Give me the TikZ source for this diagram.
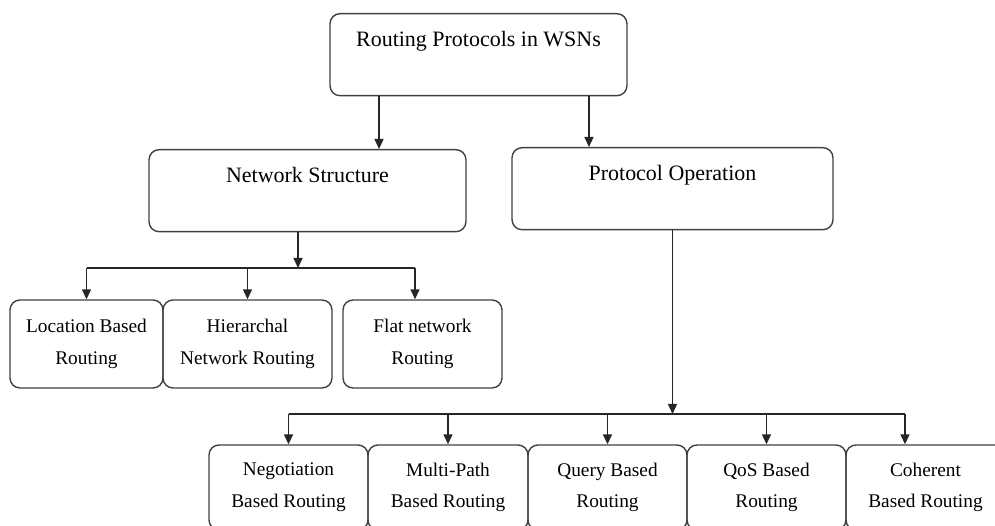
\documentclass[tikz,border=0pt]{standalone}
\usepackage{fontspec}
\setmainfont{Liberation Serif}
\usetikzlibrary{calc,arrows.meta,positioning}

\begin{document}
\begin{tikzpicture}[
  x=0.02cm, y=-0.02cm,
  bigbox/.style={rectangle, draw=black!75, line width=0.8pt, rounded corners=0.2cm, anchor=north,
    text height=0.66cm, text depth=0.98cm, inner ysep=0pt, font=\fontsize{12.5}{15}\selectfont},
  leafbox/.style={rectangle, draw=black!75, line width=0.8pt, rounded corners=0.2cm, align=center,
    minimum width=3.18cm, font=\fontsize{11}{18}\selectfont},
  line/.style={draw=black!85, line width=0.8pt},
  arr/.style={line, -{Triangle[length=2mm,width=1.8mm]}},
]
  \useasboundingbox (0,0) rectangle (995,526);
  \clip (0,0) rectangle (995,526);

  % top levels
  \node[bigbox, minimum width=5.94cm] (root) at (478.5,13) {Routing Protocols in WSNs};
  \node[bigbox, minimum width=6.34cm] (netstruct) at (307.5,149) {Network Structure};
  \node[bigbox, minimum width=6.42cm] (protop) at (672.5,147) {Protocol Operation};

  % network structure leaves
  \node[leafbox, minimum width=3.06cm, minimum height=1.76cm] (location) at (86.5,344) {Location Based\\Routing};
  \node[leafbox, minimum width=3.38cm, minimum height=1.76cm] (hierarchal) at (247.5,344) {Hierarchal\\Network Routing};
  \node[leafbox, minimum height=1.76cm] (flat) at (422.5,344) {Flat network\\Routing};

  % protocol operation leaves
  \node[leafbox, minimum height=1.7cm] (negotiation) at (288.5,487.5) {Negotiation\\Based Routing};
  \node[leafbox, minimum width=3.2cm, minimum height=1.7cm] (multipath) at (448,487.5) {Multi-Path\\Based Routing};
  \node[leafbox, minimum height=1.7cm] (query) at (607.5,487.5) {Query Based\\Routing};
  \node[leafbox, minimum height=1.7cm] (qos) at (766.5,487.5) {QoS Based\\Routing};
  \node[leafbox, minimum height=1.7cm] (coherent) at (925.5,487.5) {Coherent\\Based Routing};

  \coordinate (bus1) at (0,268);
  \coordinate (bus2) at (0,414);
  \coordinate (rootleft) at ([xshift=-1.99cm]root.south);
  \coordinate (rootright) at ([xshift=2.21cm]root.south);
  \coordinate (nsout) at ([xshift=-0.19cm]netstruct.south);
  \coordinate (flatin) at ([xshift=-0.15cm]flat.north);
  \coordinate (coherentin) at ([xshift=-0.41cm]coherent.north);

  % connectors
  \draw[arr] (rootleft) -- (rootleft |- netstruct.north);
  \draw[arr] (rootright) -- (rootright |- protop.north);

  \draw[arr] (nsout) -- (nsout |- bus1);
  \draw[line] (bus1 -| location.north) -- (bus1 -| flatin);
  \draw[arr] (bus1 -| location.north) -- (location.north);
  \draw[arr] (bus1 -| hierarchal.north) -- (hierarchal.north);
  \draw[arr] (bus1 -| flatin) -- (flatin);

  \draw[arr] (protop.south) -- (protop.south |- bus2);
  \draw[line] (bus2 -| negotiation.north) -- (bus2 -| coherentin);
  \draw[arr] (bus2 -| negotiation.north) -- (negotiation.north);
  \draw[arr] (bus2 -| multipath.north) -- (multipath.north);
  \draw[arr] (bus2 -| query.north) -- (query.north);
  \draw[arr] (bus2 -| qos.north) -- (qos.north);
  \draw[arr] (bus2 -| coherentin) -- (coherentin);
\end{tikzpicture}
\end{document}
